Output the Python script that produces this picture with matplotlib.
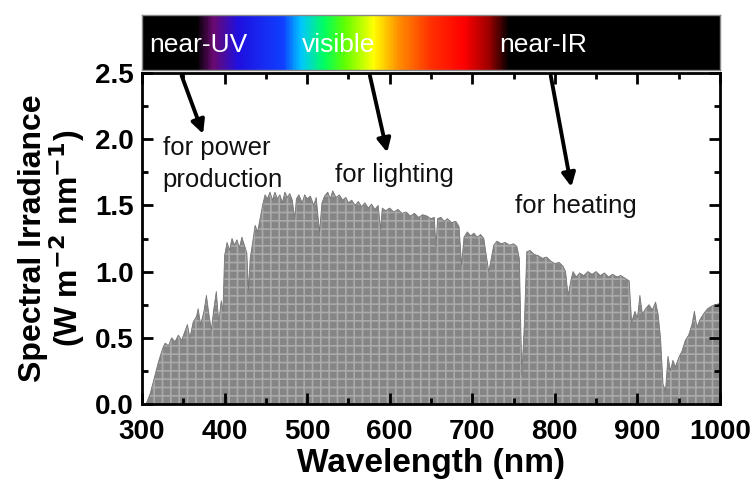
import numpy as np
import matplotlib
matplotlib.use("Agg")
import matplotlib.pyplot as plt
from matplotlib.colors import LinearSegmentedColormap
from matplotlib.ticker import MultipleLocator, FormatStrFormatter

plt.rcParams["font.family"] = ["Liberation Sans", "DejaVu Sans"]
plt.rcParams["hatch.color"] = "#aaaaaa"
plt.rcParams["hatch.linewidth"] = 1.2

# solar spectrum (nm, W m-2 nm-1)
wavelength = [
    300, 305, 310, 315, 320, 325, 328, 332, 336, 340, 344, 348, 352, 355, 358,
    362, 366, 368, 371, 375, 378, 381, 384, 387, 390, 393, 396, 398,
    400, 403, 406, 409, 412, 415, 418, 421, 424, 427, 429, 431, 434, 437, 440,
    443, 446, 449, 452, 455, 458, 461, 464, 467, 470, 473, 476, 479, 482, 485,
    487, 490, 494, 497, 500, 504, 508, 511, 515, 518, 521, 525, 528, 531, 535,
    539, 543, 547, 550, 554, 558, 562, 566, 570, 574, 578, 582, 586, 589, 591,
    595, 600, 605, 610, 615, 620, 625, 630, 635, 640, 645, 650, 654, 656, 658,
    662, 666, 670, 675, 680, 684, 687, 690, 694, 698, 702, 706, 710, 714, 717,
    720, 723, 726, 730, 735, 740, 745, 750, 754, 757, 760, 763, 766, 770, 775,
    780, 785, 790, 795, 800, 805, 810, 813, 816, 819, 822, 826, 830, 835, 840,
    845, 850, 855, 860, 865, 870, 875, 880, 885, 890, 893, 897, 900, 903, 906,
    910, 914, 918, 922, 925, 928, 931, 934, 937, 940, 943, 946, 950, 954, 958,
    962, 966, 969, 972, 976, 980, 985, 990, 995, 1000,
]
irradiance = [
    0.0, 0.0, 0.08, 0.2, 0.32, 0.42, 0.46, 0.44, 0.5, 0.47, 0.52, 0.48, 0.55, 0.6, 0.5,
    0.62, 0.66, 0.72, 0.6, 0.7, 0.82, 0.68, 0.56, 0.72, 0.85, 0.62, 0.78, 0.7,
    1.12, 1.22, 1.16, 1.25, 1.2, 1.24, 1.18, 1.26, 1.2, 1.14, 0.86, 1.1, 1.22, 1.35, 1.3,
    1.4, 1.5, 1.58, 1.55, 1.6, 1.54, 1.6, 1.55, 1.58, 1.52, 1.6, 1.56, 1.59, 1.54, 1.4,
    1.55, 1.58, 1.52, 1.58, 1.55, 1.57, 1.5, 1.56, 1.3, 1.52, 1.57, 1.6, 1.55, 1.61, 1.56,
    1.58, 1.54, 1.56, 1.52, 1.54, 1.5, 1.53, 1.49, 1.52, 1.48, 1.51, 1.47, 1.5, 1.32, 1.48,
    1.46, 1.48, 1.45, 1.47, 1.44, 1.45, 1.42, 1.44, 1.41, 1.43, 1.42, 1.4, 1.41, 1.19, 1.4,
    1.41, 1.38, 1.4, 1.37, 1.38, 1.34, 1.05, 1.26, 1.3, 1.27, 1.29, 1.26, 1.28, 1.25, 1.12,
    1.0, 1.1, 1.2, 1.23, 1.21, 1.22, 1.2, 1.21, 1.19, 1.1, 0.22, 0.6, 1.15, 1.16, 1.13,
    1.12, 1.1, 1.11, 1.08, 1.06, 1.07, 1.04, 1.0, 0.82, 0.92, 1.0, 0.96, 0.99, 0.97, 1.0,
    0.98, 1.0, 0.97, 0.99, 0.96, 0.98, 0.96, 0.97, 0.95, 0.93, 0.62, 0.7, 0.65, 0.82, 0.68,
    0.72, 0.75, 0.71, 0.77, 0.68, 0.5, 0.15, 0.1, 0.36, 0.25, 0.33, 0.28, 0.35, 0.4, 0.48,
    0.52, 0.6, 0.7, 0.58, 0.64, 0.68, 0.72, 0.74, 0.75, 0.76,
]

# rainbow strip: colour stops in nm
strip_nm = [300, 365, 385, 415, 470, 492, 520, 545, 580, 610, 650, 690, 720, 745, 1000]
strip_colors = ["#000000", "#000000", "#6a0a70", "#2010e0", "#1040ff", "#00c8ff",
                "#00ff60", "#60ff00", "#ffff00", "#ff9000", "#ff3000", "#ff0000",
                "#a00000", "#000000", "#000000"]
region_labels = ["near-UV", "visible", "near-IR"]
region_x = [309, 494, 732]

# annotations: text, text position, arrow tail, arrow head
notes = ["for power", "production", "for lighting", "for heating"]
note_x = [325, 325, 534, 752]
note_y = [1.88, 1.64, 1.68, 1.44]
arrow_from = [(348, 2.48), (576, 2.48), (795, 2.48)]
arrow_to = [(374, 2.04), (597, 1.9), (820, 1.64)]

W, H = 751, 480
fig = plt.figure(figsize=(W / 100, H / 100), dpi=100)
ax = fig.add_axes([142 / W, (H - 404) / H, (720 - 142) / W, (404 - 73) / H])
bar = fig.add_axes([142 / W, (H - 70) / H, (720 - 142) / W, 55 / H])

# ---- colour strip ----
cmap = LinearSegmentedColormap.from_list(
    "spec", [((n - 300) / 700, c) for n, c in zip(strip_nm, strip_colors)])
bar.imshow(np.linspace(0, 1, 700)[None, :], aspect="auto", cmap=cmap,
           extent=[300, 1000, 0, 1])
bar.set_xlim(300, 1000); bar.set_ylim(0, 1)
bar.set_xticks([]); bar.set_yticks([])
for s in bar.spines.values():
    s.set_color("#888888"); s.set_linewidth(1)
for lab, x in zip(region_labels, region_x):
    bar.text(x, 0.45, lab, color="white", fontsize=19, ha="left", va="center")

# ---- spectrum ----
ax.fill_between(wavelength, irradiance, 0, facecolor="#858585",
                edgecolor="#aaaaaa", hatch="++", linewidth=0)
ax.plot(wavelength, irradiance, color="#777777", lw=0.6)

ax.set_xlim(300, 1000)
ax.set_ylim(0, 2.5)
ax.xaxis.set_major_locator(MultipleLocator(100))
ax.xaxis.set_minor_locator(MultipleLocator(50))
ax.yaxis.set_major_locator(MultipleLocator(0.5))
ax.yaxis.set_minor_locator(MultipleLocator(0.25))
ax.yaxis.set_major_formatter(FormatStrFormatter("%.1f"))
ax.tick_params(which="both", direction="in", top=True, right=True, width=2)
ax.tick_params(which="major", length=8, labelsize=20)
ax.tick_params(which="minor", length=4)
ax.tick_params(axis="x", which="major", pad=11)
ax.tick_params(axis="y", which="major", pad=6)
for lab in ax.get_xticklabels() + ax.get_yticklabels():
    lab.set_fontweight("bold")
for s in ax.spines.values():
    s.set_linewidth(2)

ax.set_xlabel("Wavelength (nm)", fontsize=24, fontweight="bold", labelpad=2)
ax.set_ylabel("Spectral Irradiance\n(W m$^{\\mathbf{-2}}$ nm$^{\\mathbf{-1}}$)",
              fontsize=23, fontweight="bold", linespacing=0.95, labelpad=6)

for t, x, y in zip(notes, note_x, note_y):
    ax.text(x, y, t, fontsize=18.5, ha="left", va="baseline", color="#111111")
for a, b in zip(arrow_from, arrow_to):
    ax.annotate("", xy=b, xytext=a,
                arrowprops=dict(arrowstyle="-|>", color="black", lw=2.8,
                                mutation_scale=20, shrinkA=0, shrinkB=0))

fig.savefig("out.png", dpi=100)
